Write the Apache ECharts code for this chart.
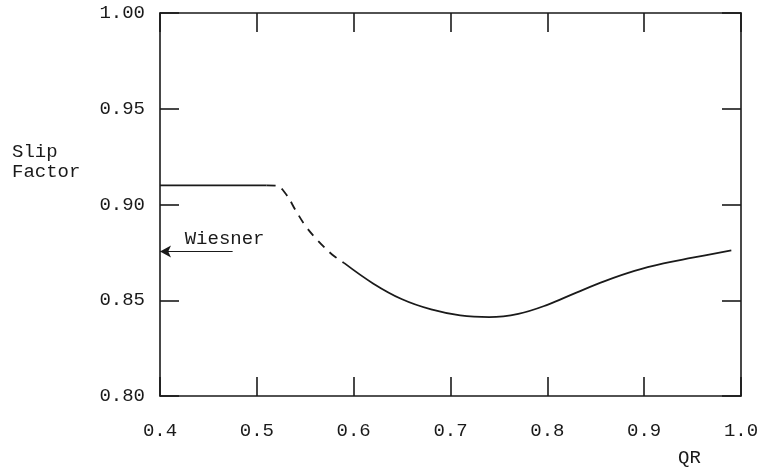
<!DOCTYPE html>
<html>
<head>
<meta charset="UTF-8">
<title>Slip Factor</title>
<script src="https://cdn.jsdelivr.net/npm/echarts@6/dist/echarts.min.js"></script>
<style>
  html, body { margin: 0; padding: 0; background: #fff; }
  #main { width: 764px; height: 470px; }
</style>
</head>
<body>
<div id="main"></div>
<script>
// values
var flatX = [0.4, 0.51];
var flatY = [0.91, 0.91];
var dashX = [0.51, 0.52, 0.53, 0.54, 0.55, 0.56, 0.57, 0.58, 0.59];
var dashY = [0.9100, 0.9098, 0.9055, 0.8970, 0.8890, 0.8828, 0.8775, 0.8730, 0.8695];
var curveX = [0.59, 0.62, 0.65, 0.68, 0.71, 0.74, 0.77, 0.80, 0.83, 0.86, 0.89, 0.92, 0.95, 0.99];
var curveY = [0.8695, 0.8588, 0.8505, 0.8452, 0.8421, 0.8412, 0.8429, 0.8476, 0.8540, 0.8601, 0.8653, 0.8692, 0.8722, 0.8761];
var wiesner = 0.8755;
var arrowEnd = 0.475;
var xTicks = [0.4, 0.5, 0.6, 0.7, 0.8, 0.9, 1.0];
var yTicks = [0.80, 0.85, 0.90, 0.95, 1.00];

var font = 'Liberation Mono';
var ink = '#1a1a1a';

function pairs(xs, ys) {
  var out = [];
  for (var i = 0; i < xs.length; i++) out.push([xs[i], ys[i]]);
  return out;
}

var chart = echarts.init(document.getElementById('main'));

var axisCommon = {
  type: 'value',
  axisLine: { show: true, lineStyle: { color: ink, width: 1.6 } },
  axisTick: { show: true, inside: true, length: 19, lineStyle: { color: ink, width: 1.6 } },
  splitLine: { show: false }
};

var option = {
  animation: false,
  backgroundColor: '#fff',
  grid: { left: 160, right: 23, top: 13, bottom: 74 },
  xAxis: [
    Object.assign({}, axisCommon, {
      min: xTicks[0], max: xTicks[xTicks.length - 1], interval: 0.1,
      position: 'bottom',
      axisLabel: {
        color: ink, fontFamily: font, fontSize: 19, margin: 25,
        formatter: function (v) { return v.toFixed(1); }
      }
    }),
    Object.assign({}, axisCommon, {
      min: xTicks[0], max: xTicks[xTicks.length - 1], interval: 0.1,
      position: 'top', axisLabel: { show: false }
    })
  ],
  yAxis: [
    Object.assign({}, axisCommon, {
      min: yTicks[0], max: yTicks[yTicks.length - 1], interval: 0.05,
      position: 'left',
      axisLabel: {
        color: ink, fontFamily: font, fontSize: 19, margin: 15,
        formatter: function (v) { return v.toFixed(2); }
      }
    }),
    Object.assign({}, axisCommon, {
      min: yTicks[0], max: yTicks[yTicks.length - 1], interval: 0.05,
      position: 'right', axisLabel: { show: false }
    })
  ],
  graphic: [
    { type: 'text', left: 12, top: 142, style: { text: 'Slip\nFactor', fill: ink, font: '19px "Liberation Mono"', lineHeight: 20 } },
    { type: 'text', left: 678, top: 448, style: { text: 'QR', fill: ink, font: '19px "Liberation Mono"' } }
  ],
  series: [
    {
      type: 'line', data: pairs(flatX, flatY), showSymbol: false,
      lineStyle: { color: ink, width: 1.8 }
    },
    {
      type: 'line', data: pairs(dashX, dashY), showSymbol: false, smooth: 0.4,
      lineStyle: { color: ink, width: 1.8, type: [9, 7] }
    },
    {
      type: 'line', data: pairs(curveX, curveY), showSymbol: false, smooth: 0.4,
      lineStyle: { color: ink, width: 1.8 }
    },
    {
      type: 'scatter', data: [[0.425, 0.8818]], symbolSize: 1,
      itemStyle: { color: 'rgba(0,0,0,0)', opacity: 1 },
      label: {
        show: true, position: 'right', distance: 0, formatter: 'Wiesner',
        color: ink, fontFamily: font, fontSize: 19,
        textBorderWidth: 0
      },
      markLine: {
        silent: true, symbol: ['arrow', 'none'], symbolSize: [9, 11],
        lineStyle: { color: ink, width: 1.2, type: 'solid' },
        label: { show: false },
        data: [[{ coord: [xTicks[0], wiesner] }, { coord: [arrowEnd, wiesner] }]]
      }
    }
  ]
};

chart.setOption(option);
</script>
</body>
</html>
